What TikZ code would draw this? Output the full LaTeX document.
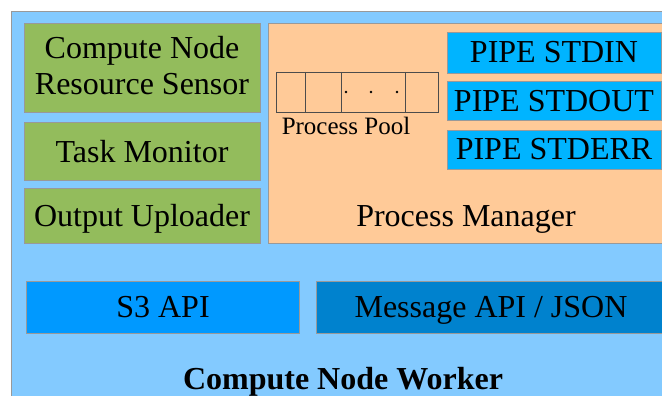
\documentclass[tikz,border=0pt]{standalone}
\usepackage{fontspec}
\setmainfont{Liberation Serif}
\usetikzlibrary{positioning}

\definecolor{workerblue}{HTML}{83CAFF}
\definecolor{sensorgreen}{HTML}{93BC5C}
\definecolor{managerorange}{HTML}{FFCA98}
\definecolor{pipeblue}{HTML}{00B4FF}
\definecolor{sthreeblue}{HTML}{0099FF}
\definecolor{msgblue}{HTML}{0082CE}

\tikzset{
  part/.style={draw=black!40, line width=0.7pt, inner sep=0pt, anchor=north west},
  bigtext/.style={font=\fontsize{32}{36}\selectfont, inner sep=0pt, anchor=base},
  smalltext/.style={font=\fontsize{25}{28}\selectfont, inner sep=0pt, anchor=base},
}

\begin{document}
\begin{tikzpicture}[x=1pt,y=-1pt]
\useasboundingbox (0,0) rectangle (662,396);
\clip (0,0) rectangle (662,396);

% Worker frame, running off the right and lower edges.
\node[part, fill=workerblue, minimum width=720, minimum height=420] (worker) at (11,11) {};

% Left column of components.
\node[part, fill=sensorgreen, minimum width=236, minimum height=89] (sensor) at (24,23) {};
\node[bigtext] (sensortop) at (142,59) {Compute Node};
\node[bigtext] (sensorbottom) at (142,95) {Resource Sensor};
\node[part, fill=sensorgreen, minimum width=236, minimum height=58] (monitor) at (24,122) {};
\node[bigtext] (monitortext) at (142,162) {Task Monitor};
\node[part, fill=sensorgreen, minimum width=236, minimum height=55] (uploader) at (24,188) {};
\node[bigtext] (uploadertext) at (142,226) {Output Uploader};

% Process manager with its pool and pipes.
\node[part, fill=managerorange, minimum width=420, minimum height=220] (manager) at (268,23) {};
\node[bigtext] (managertext) at (466,226) {Process Manager};

\node[draw=black!70, line width=0.7pt, anchor=north west, inner sep=0pt,
  minimum width=162, minimum height=40] (pool) at (276,72) {};
\foreach \px in {305,341,405}
  \draw[black!70, line width=0.7pt] (\px,72) -- (\px,112);
\foreach \dx in {346,371,397}
  \fill (\dx,92) circle (1.4);
\node[smalltext] (pooltext) at (346,135) {Process Pool};

\node[part, fill=pipeblue, minimum width=214, minimum height=41] (stdin) at (447,32) {};
\node[bigtext] (stdintext) at (554,63) {PIPE STDIN};
\node[part, fill=pipeblue, minimum width=214, minimum height=39] (stdout) at (447,81) {};
\node[bigtext] (stdouttext) at (554,111) {PIPE STDOUT};
\node[part, fill=pipeblue, minimum width=214, minimum height=39] (stderr) at (447,130) {};
\node[bigtext] (stderrtext) at (554,160) {PIPE STDERR};

% Interfaces at the bottom.
\node[part, fill=sthreeblue, minimum width=273, minimum height=52] (sthree) at (26,281) {};
\node[bigtext] (sthreetext) at (163,317) {S3 API};
\node[part, fill=msgblue, minimum width=400, minimum height=52] (message) at (316,281) {};
\node[bigtext] (messagetext) at (491,317) {Message API / JSON};

\node[bigtext, font=\fontsize{32}{36}\selectfont\bfseries] (workertext) at (343,389) {Compute Node Worker};

\end{tikzpicture}
\end{document}
